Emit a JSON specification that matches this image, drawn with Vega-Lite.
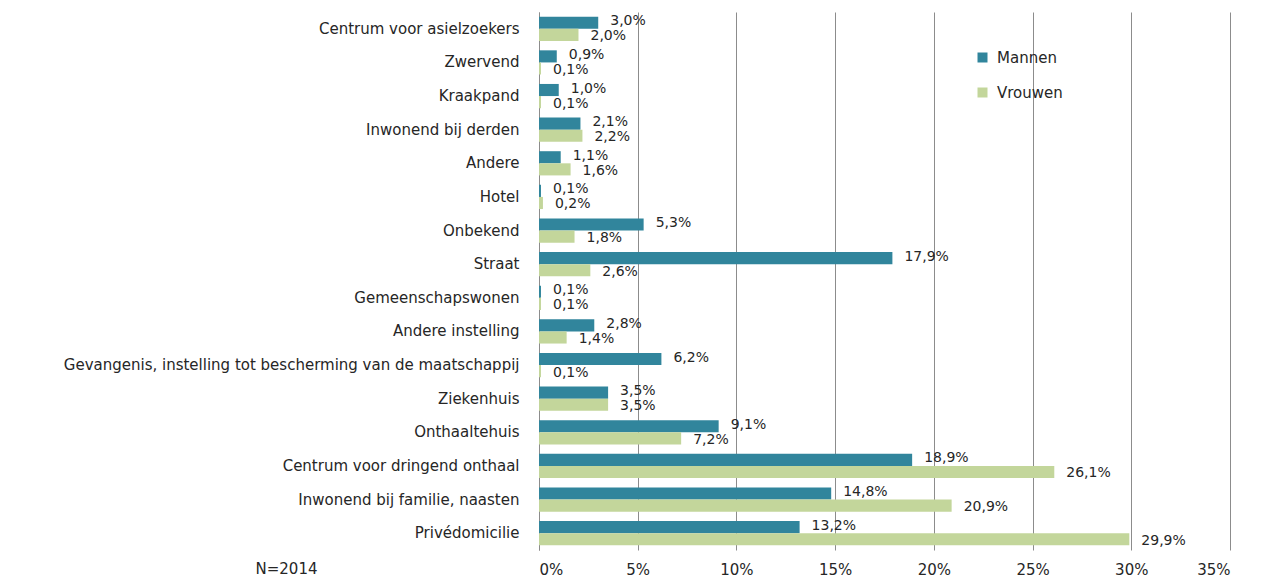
{
  "$schema": "https://vega.github.io/schema/vega-lite/v6.json",
  "width": 691,
  "height": 538,
  "autosize": "none",
  "padding": {"left": 539, "top": 12, "right": 31, "bottom": 27},
  "background": "white",
  "config": {
    "locale": {"number": {"decimal": ",", "thousands": ".", "grouping": [3], "currency": ["€", ""]}},
    "view": {"stroke": null},
    "font": "DejaVu Sans"
  },
  "data": {
    "values": [
      {"cat": "Centrum voor asielzoekers", "sex": "Mannen", "v": 0.030},
      {"cat": "Centrum voor asielzoekers", "sex": "Vrouwen", "v": 0.020},
      {"cat": "Zwervend", "sex": "Mannen", "v": 0.009},
      {"cat": "Zwervend", "sex": "Vrouwen", "v": 0.001},
      {"cat": "Kraakpand", "sex": "Mannen", "v": 0.010},
      {"cat": "Kraakpand", "sex": "Vrouwen", "v": 0.001},
      {"cat": "Inwonend bij derden", "sex": "Mannen", "v": 0.021},
      {"cat": "Inwonend bij derden", "sex": "Vrouwen", "v": 0.022},
      {"cat": "Andere", "sex": "Mannen", "v": 0.011},
      {"cat": "Andere", "sex": "Vrouwen", "v": 0.016},
      {"cat": "Hotel", "sex": "Mannen", "v": 0.001},
      {"cat": "Hotel", "sex": "Vrouwen", "v": 0.002},
      {"cat": "Onbekend", "sex": "Mannen", "v": 0.053},
      {"cat": "Onbekend", "sex": "Vrouwen", "v": 0.018},
      {"cat": "Straat", "sex": "Mannen", "v": 0.179},
      {"cat": "Straat", "sex": "Vrouwen", "v": 0.026},
      {"cat": "Gemeenschapswonen", "sex": "Mannen", "v": 0.001},
      {"cat": "Gemeenschapswonen", "sex": "Vrouwen", "v": 0.001},
      {"cat": "Andere instelling", "sex": "Mannen", "v": 0.028},
      {"cat": "Andere instelling", "sex": "Vrouwen", "v": 0.014},
      {"cat": "Gevangenis, instelling tot bescherming van de maatschappij", "sex": "Mannen", "v": 0.062},
      {"cat": "Gevangenis, instelling tot bescherming van de maatschappij", "sex": "Vrouwen", "v": 0.001},
      {"cat": "Ziekenhuis", "sex": "Mannen", "v": 0.035},
      {"cat": "Ziekenhuis", "sex": "Vrouwen", "v": 0.035},
      {"cat": "Onthaaltehuis", "sex": "Mannen", "v": 0.091},
      {"cat": "Onthaaltehuis", "sex": "Vrouwen", "v": 0.072},
      {"cat": "Centrum voor dringend onthaal", "sex": "Mannen", "v": 0.189},
      {"cat": "Centrum voor dringend onthaal", "sex": "Vrouwen", "v": 0.261},
      {"cat": "Inwonend bij familie, naasten", "sex": "Mannen", "v": 0.148},
      {"cat": "Inwonend bij familie, naasten", "sex": "Vrouwen", "v": 0.209},
      {"cat": "Privédomicilie", "sex": "Mannen", "v": 0.132},
      {"cat": "Privédomicilie", "sex": "Vrouwen", "v": 0.299}
    ]
  },
  "encoding": {
    "y": {
      "field": "cat", "type": "nominal", "sort": null,
      "scale": {"paddingInner": 0.28, "paddingOuter": 0.14},
      "axis": {"title": null, "ticks": false, "labelPadding": 20, "labelFontSize": 15, "labelColor": "#262626", "domainColor": "#8c8c8c", "labelLimit": 600}
    },
    "yOffset": {"field": "sex", "type": "nominal", "sort": ["Mannen", "Vrouwen"]},
    "x": {
      "field": "v", "type": "quantitative",
      "scale": {"domain": [0, 0.35]},
      "axis": {"format": ".0%", "values": [0, 0.05, 0.1, 0.15, 0.2, 0.25, 0.3, 0.35], "labelOverlap": false, "grid": true, "gridColor": "#8c8c8c", "gridWidth": 1, "domain": false, "ticks": false, "labelFontSize": 15, "labelColor": "#262626", "labelPadding": 12, "title": "N=2014", "titleX": -284, "titleY": 18, "titleAlign": "left", "titleFontSize": 15, "titleFontWeight": "normal", "titleColor": "#262626", "titleBaseline": "middle"}
    }
  },
  "layer": [
    {
      "mark": {"type": "bar"},
      "encoding": {
        "color": {
          "field": "sex", "type": "nominal",
          "scale": {"domain": ["Mannen", "Vrouwen"], "range": ["#31859C", "#C3D69B"]},
          "legend": {"title": null, "orient": "none", "legendX": 436, "legendY": 38, "symbolType": "square", "symbolSize": 100, "labelFontSize": 15, "labelColor": "#262626", "rowPadding": 19, "labelOffset": 7, "symbolStrokeWidth": 0}
        }
      }
    },
    {
      "transform": [{"filter": "datum.sex === 'Mannen'"}],
      "mark": {"type": "text", "align": "left", "baseline": "middle", "dx": 12, "dy": -1.5, "fontSize": 14, "color": "#262626"},
      "encoding": {
        "text": {"field": "v", "type": "quantitative", "format": ".1%"}
      }
    },
    {
      "transform": [{"filter": "datum.sex === 'Vrouwen'"}],
      "mark": {"type": "text", "align": "left", "baseline": "middle", "dx": 12, "dy": 1.5, "fontSize": 14, "color": "#262626"},
      "encoding": {
        "text": {"field": "v", "type": "quantitative", "format": ".1%"}
      }
    }
  ]
}
